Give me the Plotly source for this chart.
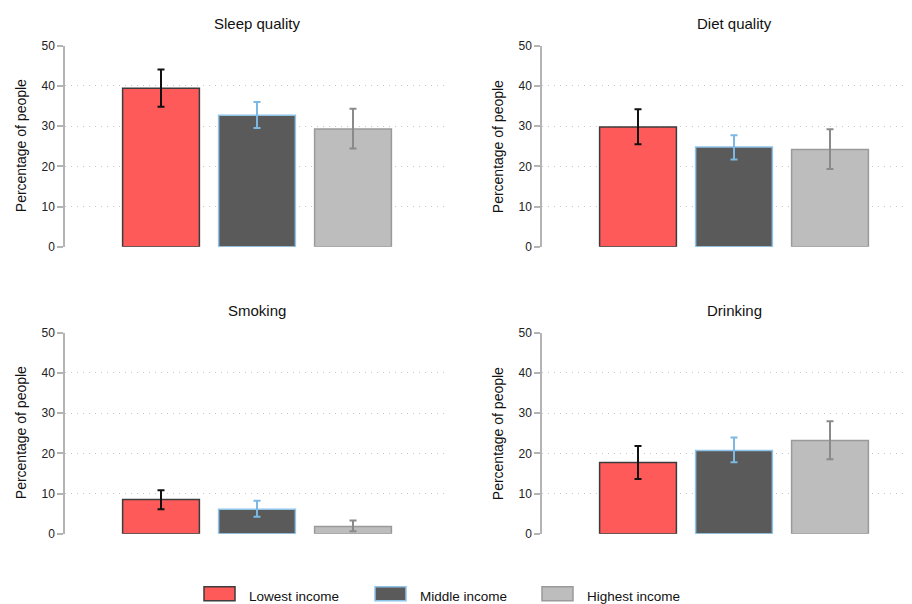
import plotly.graph_objects as go

# ---- data ----
panels = ["Sleep quality", "Diet quality", "Smoking", "Drinking"]
groups = ["Lowest income", "Middle income", "Highest income"]

# mean percentage for each group in each panel
sleep_vals = [39.4, 32.7, 29.3]
diet_vals = [29.8, 24.8, 24.2]
smoking_vals = [8.5, 6.1, 1.8]
drinking_vals = [17.7, 20.7, 23.2]

# confidence interval upper / lower bounds
sleep_hi = [44.1, 36.0, 34.3]
sleep_lo = [34.8, 29.5, 24.4]
diet_hi = [34.2, 27.7, 29.2]
diet_lo = [25.5, 21.7, 19.3]
smoking_hi = [10.8, 8.2, 3.3]
smoking_lo = [6.1, 4.2, 0.6]
drinking_hi = [21.8, 23.9, 28.0]
drinking_lo = [13.6, 17.8, 18.5]

y_ticks = [0, 10, 20, 30, 40, 50]

values = [sleep_vals, diet_vals, smoking_vals, drinking_vals]
his = [sleep_hi, diet_hi, smoking_hi, drinking_hi]
los = [sleep_lo, diet_lo, smoking_lo, drinking_lo]

# ---- styles ----
fills = ["#FF5A5A", "#5A5A5A", "#BDBDBD"]
borders = ["#3C3C3C", "#8EC4EA", "#9A9A9A"]
err_cols = ["#111111", "#7DB8E2", "#8A8A8A"]
FONT = "Liberation Sans, Arial, Helvetica, sans-serif"
W, H = 912, 604
OFF = 8  # page body margin

def px_x(p):
    return (p - OFF) / W

def px_y(p):
    return 1 - (p - OFF) / H

# panel geometry in page pixels: (axis x, right edge, y of 50, y of 0)
unit = 96.0
geo = [
    (65, 65 + 4 * unit, 45.7, 246.7),
    (542, W + OFF, 45.7, 246.7),
    (65, 65 + 4 * unit, 332.7, 533.7),
    (542, W + OFF, 332.7, 533.7),
]
title_y = [23.5, 23.5, 310, 310]

fig = go.Figure()
layout = {}
annotations = []
for i, name in enumerate(panels):
    ax = "" if i == 0 else str(i + 1)
    x0, x1, ytop, ybot = geo[i]
    for g in range(3):
        v = values[i][g]
        fig.add_trace(go.Bar(
            x=[g + 1], y=[v], width=0.8,
            name=groups[g], showlegend=False,
            marker=dict(color=fills[g], line=dict(color=borders[g], width=1.5)),
            error_y=dict(type="data", symmetric=False,
                         array=[his[i][g] - v], arrayminus=[v - los[i][g]],
                         color=err_cols[g], thickness=2, width=3.5),
            xaxis="x" + ax, yaxis="y" + ax,
        ))
    layout["xaxis" + ax] = dict(
        domain=[px_x(x0), min(1.0, px_x(x1))], range=[0, (x1 - x0) / unit],
        showgrid=False, zeroline=False, showline=False, showticklabels=False,
        ticks="", anchor="y" + ax, fixedrange=True, automargin=False,
    )
    layout["yaxis" + ax] = dict(
        domain=[px_y(ybot), px_y(ytop)], range=[0, 50],
        tickvals=y_ticks, ticktext=[str(t) for t in y_ticks],
        showline=True, linecolor="#B4B4B4", linewidth=1.5,
        ticks="outside", ticklen=6, tickcolor="#B4B4B4", tickwidth=1.5,
        tickfont=dict(family=FONT, size=12, color="#222222"),
        showgrid=True, gridcolor="#C8C8C8", gridwidth=1, griddash="1px,5px",
        zeroline=False, anchor="x" + ax, automargin=False,
    )
    # panel title
    annotations.append(dict(
        text=name, x=px_x(x0 + 2 * unit), y=px_y(title_y[i]),
        xref="paper", yref="paper",
        xanchor="center", yanchor="middle", showarrow=False,
        font=dict(family=FONT, size=15, color="#111111"),
    ))
    # y-axis title
    annotations.append(dict(
        text="Percentage of people", textangle=-90,
        x=px_x(x0 - 44), y=px_y((ytop + ybot) / 2), xref="paper", yref="paper",
        xanchor="center", yanchor="middle", showarrow=False,
        font=dict(family=FONT, size=14, color="#111111"),
    ))

# ---- legend (drawn as swatches + labels) ----
shapes = []
leg_x = [204, 375, 542]
for g in range(3):
    sx = leg_x[g]
    shapes.append(dict(
        type="rect", xref="paper", yref="paper",
        x0=px_x(sx), x1=px_x(sx + 31), y0=px_y(600.7), y1=px_y(586.7),
        fillcolor=fills[g], line=dict(color=borders[g], width=1.5),
    ))
    annotations.append(dict(
        text=groups[g], x=px_x(sx + 43), y=px_y(596), xref="paper", yref="paper",
        xanchor="left", yanchor="middle", showarrow=False,
        font=dict(family=FONT, size=13.5, color="#111111"),
    ))

fig.update_layout(
    width=W, height=H, margin=dict(l=0, r=0, t=0, b=0, pad=0, autoexpand=False),
    paper_bgcolor="white", plot_bgcolor="white",
    barmode="overlay", showlegend=False,
    annotations=annotations, shapes=shapes,
    font=dict(family=FONT),
    **layout,
)

fig.write_html("out.html")
